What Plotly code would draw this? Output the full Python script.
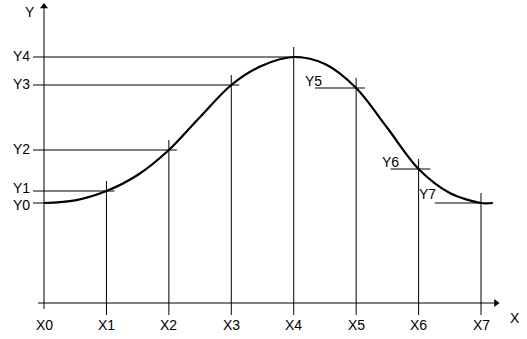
import plotly.graph_objects as go

# ---- data ----
x_labels = ["X0", "X1", "X2", "X3", "X4", "X5", "X6", "X7"]
y_labels = ["Y0", "Y1", "Y2", "Y3", "Y4", "Y5", "Y6", "Y7"]
x_vals = [0, 1, 2, 3, 4, 5, 6, 7]
y_vals = [100, 112, 153, 218, 246, 215, 134, 100]

# curve samples (incl. mid-points and the flat tail)
curve_x = [0, 0.5, 1, 1.5, 2, 2.5, 3, 3.5, 4, 4.5, 5, 5.5, 6, 6.5, 7, 7.19]
curve_y = [100, 102.7, 112, 128, 153, 186, 218, 237.5, 246, 239, 215, 175, 134, 110, 100, 100]

# ---- layout constants (pixels -> data) ----
W, H = 527, 339
PX_PER_X = 62.43
X0_PX = 44
AXIS_PX = 303
xr = [-X0_PX / PX_PER_X, (W - X0_PX) / PX_PER_X]
yr = [AXIS_PX - H, AXIS_PX]

def px(dx):
    return dx / PX_PER_X

BLACK = "#000000"
FONT = dict(family="Arial, Liberation Sans, sans-serif", size=14, color=BLACK)

fig = go.Figure()

# axes
fig.add_trace(go.Scatter(x=[0, 0], y=[-6, 298], mode="lines",
                         line=dict(color=BLACK, width=1), hoverinfo="skip"))
fig.add_trace(go.Scatter(x=[px(-6), px(452)], y=[0, 0], mode="lines",
                         line=dict(color=BLACK, width=1), hoverinfo="skip"))
fig.add_trace(go.Scatter(x=[0], y=[296.5], mode="markers",
                         marker=dict(symbol="triangle-up", size=7, color=BLACK),
                         hoverinfo="skip"))
fig.add_trace(go.Scatter(x=[px(452)], y=[0], mode="markers",
                         marker=dict(symbol="triangle-right", size=7, color=BLACK),
                         hoverinfo="skip"))

# vertical drop lines
vx, vy = [], []
for i, (xv, yv) in enumerate(zip(x_vals, y_vals)):
    if i == 0:
        continue
    vx += [xv, xv, None]
    vy += [-12, yv + 10, None]
fig.add_trace(go.Scatter(x=vx, y=vy, mode="lines", line=dict(color=BLACK, width=1),
                         hoverinfo="skip"))

# horizontal lines: left side for Y0..Y4
hx, hy = [], []
for i in range(5):
    xend = x_vals[i] + (px(8) if i > 0 else 0)
    hx += [px(-11), xend, None]
    hy += [y_vals[i], y_vals[i], None]
# short horizontal lines for Y5..Y7
offs = [(-0.66, 0.14), (-0.45, 0.19), (-0.74, 0.0)]
for i, (a, b) in zip(range(5, 8), offs):
    hx += [x_vals[i] + a, x_vals[i] + b, None]
    hy += [y_vals[i], y_vals[i], None]
fig.add_trace(go.Scatter(x=hx, y=hy, mode="lines", line=dict(color=BLACK, width=1),
                         hoverinfo="skip"))

# curve
fig.add_trace(go.Scatter(x=curve_x, y=curve_y, mode="lines",
                         line=dict(color=BLACK, width=2.2, shape="spline", smoothing=0.9),
                         hoverinfo="skip"))

ann = []
for xv, lab in zip(x_vals, x_labels):
    ann.append(dict(x=xv, y=-22, text=lab, showarrow=False, font=FONT,
                    xanchor="center", yanchor="middle"))
left_shift = [-2, 3, 1, 1, 1]
for i in range(5):
    ann.append(dict(x=px(-12), y=y_vals[i], text=y_labels[i], showarrow=False, font=FONT,
                    xanchor="right", yanchor="middle", yshift=left_shift[i]))
lab_pos = [(-0.85, 7.5), (-0.62, 7.5), (-1.03, 9)]
for i, (dx, dy) in zip(range(5, 8), lab_pos):
    ann.append(dict(x=x_vals[i] + dx, y=y_vals[i] + dy, text=y_labels[i], showarrow=False,
                    font=FONT, xanchor="left", yanchor="middle"))
ann.append(dict(x=px(-14), y=291, text="Y", showarrow=False, font=FONT,
                xanchor="center", yanchor="middle"))
ann.append(dict(x=px(471), y=-15, text="X", showarrow=False, font=FONT,
                xanchor="center", yanchor="middle"))

fig.update_layout(
    width=W, height=H,
    margin=dict(l=0, r=0, t=0, b=0),
    paper_bgcolor="white", plot_bgcolor="white",
    showlegend=False,
    xaxis=dict(range=xr, visible=False, fixedrange=True),
    yaxis=dict(range=yr, visible=False, fixedrange=True),
    annotations=ann,
)

fig.write_html("out.html")
